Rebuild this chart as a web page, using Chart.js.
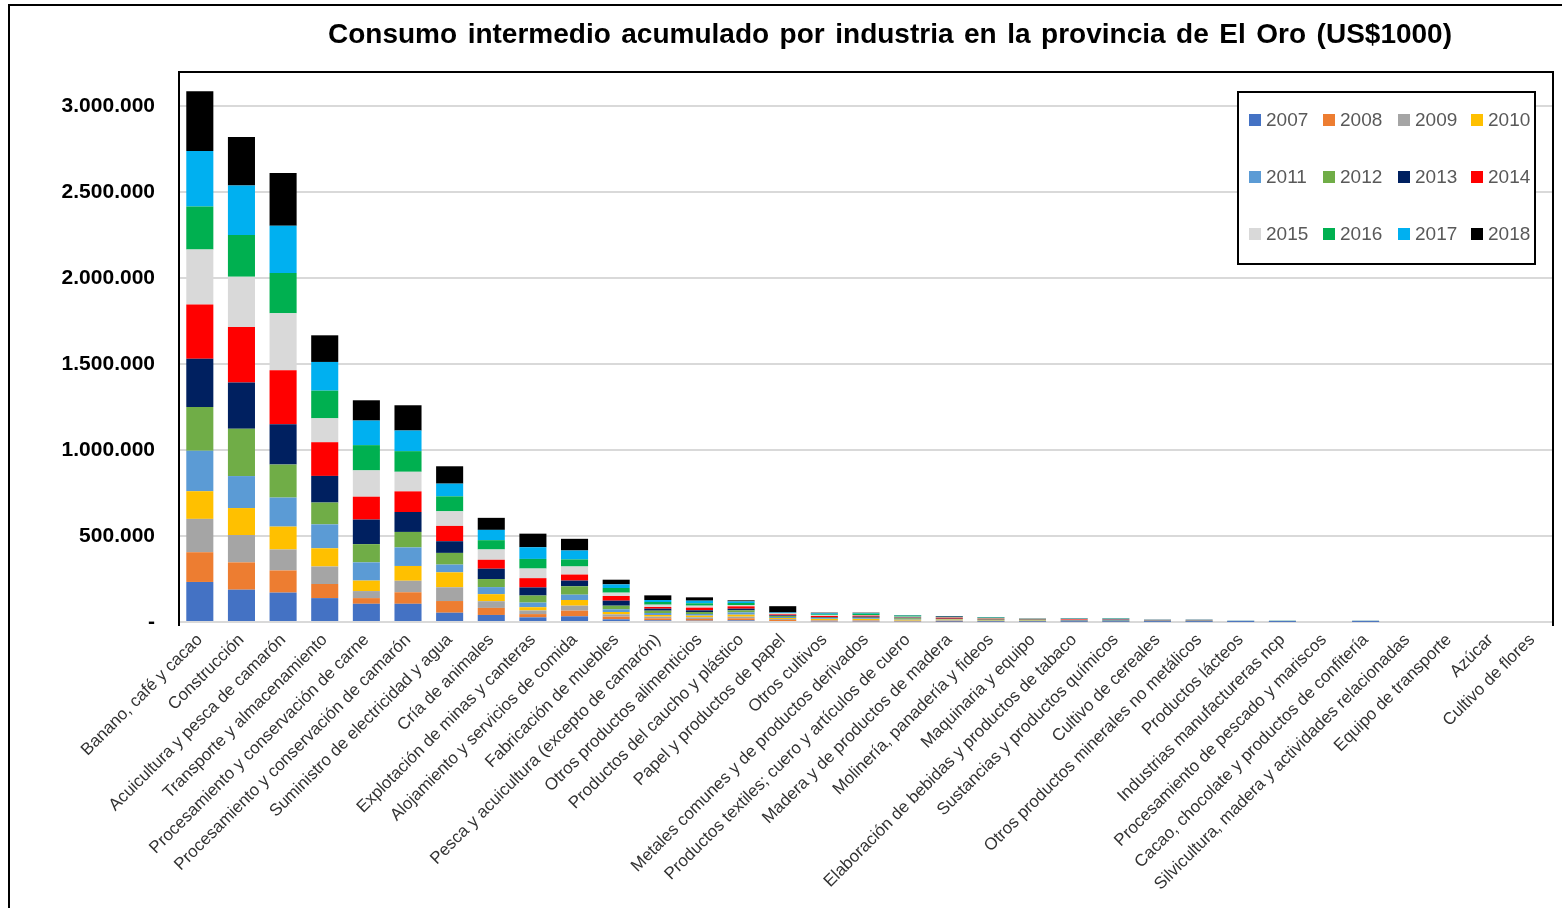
<!DOCTYPE html>
<html>
<head>
<meta charset="utf-8">
<title>Consumo intermedio El Oro</title>
<script src="https://cdn.jsdelivr.net/npm/chart.js@4.4.1/dist/chart.umd.min.js"></script>
<style>
    body { margin: 0; background: #fff; }
    #wrap { position: relative; width: 1562px; height: 908px; }
</style>
</head>
<body>
<div id="wrap"><canvas id="myChart" width="1562" height="908"></canvas></div>
<script>
// Industrias (eje X), de mayor a menor consumo acumulado
const industrias = [
    'Banano, café y cacao',
    'Construcción',
    'Acuicultura y pesca de camarón',
    'Transporte y almacenamiento',
    'Procesamiento y conservación de carne',
    'Procesamiento y conservación de camarón',
    'Suministro de electricidad y agua',
    'Cría de animales',
    'Explotación de minas y canteras',
    'Alojamiento y servicios de comida',
    'Fabricación de muebles',
    'Pesca y acuicultura (excepto de camarón)',
    'Otros productos alimenticios',
    'Productos del caucho y plástico',
    'Papel y productos de papel',
    'Otros cultivos',
    'Metales comunes y de productos derivados',
    'Productos textiles; cuero y artículos de cuero',
    'Madera y de productos de madera',
    'Molinería, panadería y fideos',
    'Maquinaria y equipo',
    'Elaboración de bebidas y productos de tabaco',
    'Sustancias y productos químicos',
    'Cultivo de cereales',
    'Otros productos minerales no metálicos',
    'Productos lácteos',
    'Industrias manufactureras ncp',
    'Procesamiento de pescado y mariscos',
    'Cacao, chocolate y productos de confitería',
    'Silvicultura, madera y actividades relacionadas',
    'Equipo de transporte',
    'Azúcar',
    'Cultivo de flores'
];

const anios = ['2007', '2008', '2009', '2010', '2011', '2012', '2013', '2014', '2015', '2016', '2017', '2018'];

// Consumo intermedio por año (US$1000), un valor por industria
const v2007 = [233000, 188000, 171000, 139000, 106000, 106000, 54000, 41000, 27000, 33000, 15500, 9700, 7800, 9700, 5800, 3900, 3900, 3900, 1900, 1900, 1900, 1500, 1500, 1000, 1000, 500, 600, 0, 500, 0, 0, 0, 0];
const v2008 = [173000, 159000, 129000, 82000, 33000, 67000, 68000, 41000, 19000, 33000, 15500, 11600, 9700, 11600, 5800, 3900, 3900, 1900, 3900, 1900, 1900, 1500, 1500, 1000, 1000, 500, 600, 0, 500, 0, 0, 0, 0];
const v2009 = [194000, 159000, 122000, 102000, 41000, 67000, 80000, 39000, 21000, 29000, 13600, 9700, 9700, 9700, 5800, 3900, 3900, 1900, 3900, 1900, 1900, 1500, 1500, 1000, 1000, 500, 600, 0, 500, 0, 0, 0, 0];
const v2010 = [161000, 157000, 133000, 106000, 61000, 86000, 87000, 41000, 19000, 33000, 13600, 9700, 9700, 11600, 5800, 5800, 5800, 5800, 3900, 1900, 1900, 1500, 1500, 1000, 1100, 600, 600, 0, 600, 0, 0, 0, 0];
const v2011 = [235000, 186000, 169000, 139000, 106000, 108000, 45000, 41000, 27000, 31000, 15500, 11600, 9700, 13600, 5800, 3900, 3900, 3900, 1900, 1900, 1900, 1500, 1500, 1000, 1100, 600, 600, 0, 600, 0, 0, 0, 0];
const v2012 = [255000, 276000, 192000, 127000, 106000, 90000, 68000, 47000, 41000, 49000, 21300, 13600, 11600, 11600, 5800, 3900, 3900, 3900, 1900, 3900, 3900, 1500, 1900, 1200, 1100, 600, 600, 0, 600, 0, 0, 0, 0];
const v2013 = [280000, 269000, 235000, 155000, 143000, 116000, 68000, 60000, 47000, 33000, 29100, 11600, 9700, 9700, 3900, 3900, 5800, 3900, 1900, 1900, 1900, 1900, 3900, 1200, 1100, 600, 600, 0, 600, 0, 0, 0, 0];
const v2014 = [316000, 322000, 314000, 196000, 133000, 120000, 89000, 52000, 54000, 35000, 27100, 9700, 15500, 13600, 5800, 5800, 5800, 1900, 5800, 3900, 1900, 3900, 1900, 1200, 1200, 700, 600, 0, 700, 0, 0, 0, 0];
const v2015 = [320000, 293000, 331000, 139000, 153000, 114000, 85000, 60000, 56000, 47000, 19400, 13600, 11600, 7800, 5800, 5800, 3900, 3900, 1900, 1900, 1900, 1900, 1500, 1200, 1200, 700, 700, 0, 700, 0, 0, 0, 0];
const v2016 = [251000, 243000, 235000, 161000, 147000, 120000, 87000, 54000, 56000, 41000, 27100, 15500, 13600, 11600, 1000, 3900, 7800, 5800, 1900, 3900, 500, 1500, 1900, 1200, 1200, 700, 700, 0, 700, 0, 0, 0, 0];
const v2017 = [323000, 288000, 274000, 167000, 143000, 120000, 74000, 60000, 68000, 52000, 21300, 11600, 15500, 9700, 3900, 5800, 3900, 1900, 1900, 1900, 500, 1500, 1500, 1200, 1300, 800, 700, 0, 800, 0, 0, 0, 0];
const v2018 = [347000, 282000, 308000, 155000, 118000, 147000, 101000, 70000, 79000, 68000, 27100, 27100, 19400, 5800, 36800, 3900, 1900, 1900, 3900, 1900, 1900, 1900, 1500, 1400, 1400, 800, 700, 0, 800, 0, 0, 0, 0];

const valores = [v2007, v2008, v2009, v2010, v2011, v2012, v2013, v2014, v2015, v2016, v2017, v2018];

// marcas del eje Y
const ticksY = [0, 500000, 1000000, 1500000, 2000000, 2500000, 3000000];

const colores = ['#4472C4', '#ED7D31', '#A5A5A5', '#FFC000', '#5B9BD5', '#70AD47',
                 '#002060', '#FF0000', '#D9D9D9', '#00B050', '#00B0F0', '#000000'];

const titulo = 'Consumo intermedio acumulado por industria en la provincia de El Oro (US$1000)';
const fuente = '"Liberation Sans", Arial, sans-serif';

function miles(v) {
    if (v === 0) return '-';
    return String(Math.round(v)).replace(/\B(?=(\d{3})+(?!\d))/g, '.');
}

// marco exterior, borde del area de trazado, titulo y leyenda
const decoracion = {
    id: 'decoracion',
    beforeDraw(chart) {
        const ctx = chart.ctx;
        ctx.save();
        ctx.fillStyle = '#fff';
        ctx.fillRect(0, 0, chart.width, chart.height);
        ctx.restore();
    },
    afterDraw(chart) {
        const { ctx, chartArea: { left, top, right, bottom } } = chart;
        ctx.save();

        ctx.strokeStyle = '#000';
        ctx.lineWidth = 2;
        ctx.beginPath();
        ctx.moveTo(9, chart.height);
        ctx.lineTo(9, 5);
        ctx.lineTo(chart.width, 5);
        ctx.stroke();

        ctx.beginPath();
        ctx.moveTo(left, bottom + 4);
        ctx.lineTo(left, top);
        ctx.lineTo(right, top);
        ctx.lineTo(right, bottom + 4);
        ctx.stroke();

        // titulo con espacios entre palabras algo mas anchos
        ctx.fillStyle = '#000';
        ctx.font = 'bold 28px ' + fuente;
        ctx.textBaseline = 'middle';
        ctx.textAlign = 'left';
        const palabras = titulo.split(' ');
        const anchoTexto = palabras.reduce((s, p) => s + ctx.measureText(p).width, 0);
        const hueco = (1124 - anchoTexto) / (palabras.length - 1);
        let x = 328;
        palabras.forEach(p => {
            ctx.fillText(p, x, 35);
            x += ctx.measureText(p).width + hueco;
        });

        // leyenda 4 x 3
        const lx = 1238, ly = 92, lw = 297, lh = 172;
        ctx.fillStyle = '#fff';
        ctx.fillRect(lx, ly, lw, lh);
        ctx.strokeRect(lx, ly, lw, lh);
        const colX = [1249, 1323, 1398, 1471];
        const rowY = [120, 177, 234];
        ctx.font = '19px ' + fuente;
        ctx.textAlign = 'left';
        chart.data.datasets.forEach((ds, i) => {
            const cx = colX[i % 4];
            const cy = rowY[Math.floor(i / 4)];
            ctx.fillStyle = ds.backgroundColor;
            ctx.fillRect(cx, cy - 6, 12, 12);
            ctx.fillStyle = '#595959';
            ctx.fillText(ds.label, cx + 17, cy + 1);
        });
        ctx.restore();
    }
};

const ctx = document.getElementById('myChart').getContext('2d');

const chart1 = new Chart(ctx, {
    type: 'bar',
    data: {
        labels: industrias,
        datasets: anios.map((a, i) => ({
            label: a,
            data: valores[i],
            backgroundColor: colores[i],
            borderWidth: 0,
            barPercentage: 0.65,
            categoryPercentage: 1.0
        }))
    },
    options: {
        responsive: false,
        animation: false,
        layout: {
            padding: { left: 0, top: 72, right: 9, bottom: 0 }
        },
        plugins: {
            legend: { display: false },
            title: { display: false },
            tooltip: { enabled: false }
        },
        scales: {
            x: {
                stacked: true,
                afterFit(scale) { scale.height = 286; },
                grid: { display: false, drawTicks: false },
                border: { display: true, color: '#D9D9D9', width: 2 },
                ticks: {
                    autoSkip: false,
                    maxRotation: 45,
                    minRotation: 45,
                    padding: 8,
                    color: '#333333',
                    font: { family: fuente, size: 17 }
                }
            },
            y: {
                stacked: true,
                min: 0,
                max: 3200000,
                afterFit(scale) { scale.width = 179; },
                afterBuildTicks(scale) {
                    scale.ticks = ticksY.map(v => ({ value: v }));
                },
                grid: { color: '#D9D9D9', lineWidth: 2, drawTicks: false },
                border: { display: false },
                ticks: {
                    padding: 24,
                    color: '#000',
                    font: { family: fuente, size: 21, weight: 'bold' },
                    callback: v => miles(v)
                }
            }
        }
    },
    plugins: [decoracion]
});
</script>
</body>
</html>
